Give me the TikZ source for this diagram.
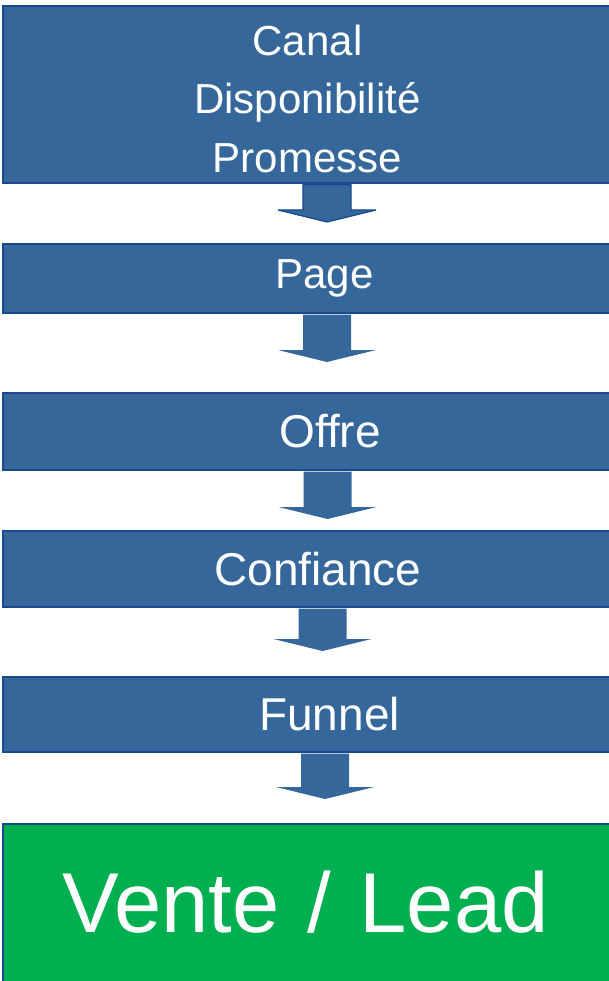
\documentclass[tikz,border=0pt]{standalone}
\usepackage{fontspec}
\setmainfont{Liberation Sans}
\usetikzlibrary{calc}

\definecolor{bleu}{RGB}{54,103,154}
\definecolor{bleufonce}{RGB}{22,74,140}
\definecolor{vert}{RGB}{0,175,80}

% grosse fleche entre deux boites : #2 depart, #3 arrivee, #4 abscisse, #5 ecart sous la pointe
\newcommand{\fleche}[5][]{%
  \coordinate (haut) at ($(#2.south -| #4,0)+(0,1.5)$);
  \coordinate (pointe) at ($(#3.north -| #4,0)+(0,-#5)$);
  \fill[bleu,#1] ($(haut)+(-24,0)$) -- ($(pointe)+(-24,-12)$) -- ($(pointe)+(-49,-12)$) -- (pointe)
    -- ($(pointe)+(49,-12)$) -- ($(pointe)+(24,-12)$) -- ($(haut)+(24,0)$) -- cycle;
}

\begin{document}
\begin{tikzpicture}[x=1pt,y=-1pt,
  boite/.style={draw=bleufonce,fill=bleu,line width=2.5pt,text=white,outer sep=0pt,
    anchor=north west,align=center,font=\fontsize{46}{55}\selectfont}]

\useasboundingbox (0,0) rectangle (609,981);
\clip (0,0) rectangle (609,981);

% les etapes
\node[boite,minimum width=609pt,minimum height=177pt,text height=156pt,text depth=0pt,
  font=\fontsize{42}{58.5}\selectfont] (canal) at (3,6) {Canal\\Disponibilité\\Promesse};
\node[boite,minimum width=643pt,minimum height=69pt,font=\fontsize{42}{50}\selectfont] (page) at (3,244) {Page};
\node[boite,minimum width=654pt,minimum height=77pt] (offre) at (3,393) {Offre};
\node[boite,minimum width=630pt,minimum height=76pt] (confiance) at (3,531) {Confiance};
\node[boite,minimum width=653pt,minimum height=75pt] (funnel) at (3,677) {Funnel};

% resultat
\node[boite,fill=vert,minimum width=700pt,text width=600pt,align=left,inner xsep=59pt,inner ysep=0pt,
  text height=108pt,text depth=60pt,font=\fontsize{85}{100}\selectfont] (vente) at (3,824) {Vente / Lead};

% fleches
\fleche[draw=bleufonce,line width=1.2pt,line join=bevel]{canal}{page}{327}{22}
\fleche{page}{offre}{327}{31}
\fleche{offre}{confiance}{327.5}{12}
\fleche{confiance}{funnel}{322.5}{26}
\fleche{funnel}{vente}{325}{25}

\end{tikzpicture}
\end{document}
